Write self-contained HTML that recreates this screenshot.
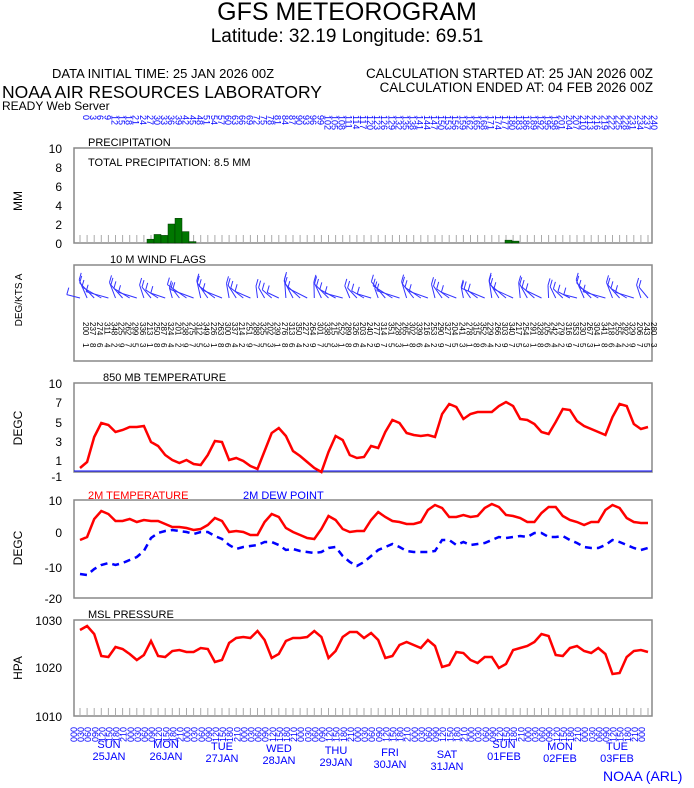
<!DOCTYPE html>
<html><head><meta charset="utf-8"><style>
body{margin:0;background:#fff;width:694px;height:788px;overflow:hidden}
svg{display:block;font-family:"Liberation Sans",sans-serif}
</style></head><body>
<svg id="s" width="694" height="788" xmlns="http://www.w3.org/2000/svg">
<text x="347" y="20" font-size="25" text-anchor="middle">GFS METEOROGRAM</text>
<text x="347" y="42" font-size="19" text-anchor="middle">Latitude: 32.19 Longitude:  69.51</text>
<text x="52" y="78" font-size="13">DATA INITIAL TIME: 25 JAN 2026 00Z</text>
<text x="653" y="78" font-size="13.4" text-anchor="end">CALCULATION STARTED AT: 25 JAN 2026 00Z</text>
<text x="653" y="92" font-size="13.4" text-anchor="end">CALCULATION ENDED AT: 04 FEB 2026 00Z</text>
<text x="2" y="98" font-size="17.5">NOAA AIR RESOURCES LABORATORY</text>
<text x="2" y="110" font-size="12">READY Web Server</text>
<text x="88" y="146" font-size="11">PRECIPITATION</text>
<text x="88" y="166" font-size="11">TOTAL PRECIPITATION:   8.5 MM</text>
<text x="110" y="263" font-size="11">10 M  WIND FLAGS</text>
<text x="103" y="381" font-size="11">850 MB  TEMPERATURE</text>
<text x="88" y="499" font-size="11" fill="#f00">2M TEMPERATURE</text>
<text x="243" y="499" font-size="11" fill="#00f">2M   DEW POINT</text>
<text x="88" y="618" font-size="11">MSL PRESSURE</text>
<text x="603" y="781" font-size="14" fill="#00f">NOAA (ARL)</text>
<g font-size="12" text-anchor="middle">
<text transform="translate(22,201) rotate(-90)">MM</text>
<text transform="translate(22,300) rotate(-90)" font-size="10">DEG/KTS  A</text>
<text transform="translate(22,428) rotate(-90)">DEGC</text>
<text transform="translate(22,548) rotate(-90)">DEGC</text>
<text transform="translate(22,668) rotate(-90)">HPA</text>
</g>
<g font-size="12" text-anchor="end">
<text x="62" y="153">10</text><text x="62" y="172">8</text><text x="62" y="191">6</text><text x="62" y="210">4</text><text x="62" y="229">2</text><text x="62" y="248">0</text>
<text x="62" y="388">10</text><text x="62" y="407">7</text><text x="62" y="427">5</text><text x="62" y="446">3</text><text x="62" y="465">1</text><text x="62" y="481">-1</text>
<text x="62" y="505">10</text><text x="62" y="537">0</text><text x="62" y="572">-10</text><text x="62" y="603">-20</text>
<text x="62" y="625">1030</text><text x="62" y="672">1020</text><text x="62" y="721">1010</text>
</g>
<g fill="none" stroke="#888" stroke-width="1.5">
<rect x="74" y="148" width="578" height="95"/>
<rect x="74" y="265" width="578" height="96"/>
<rect x="74" y="383" width="578" height="89"/>
<rect x="74" y="500" width="578" height="98"/>
<rect x="74" y="620" width="578" height="96"/>
</g>
<g stroke="#00f" stroke-width="1"><line x1="74" y1="471" x2="652" y2="471"/></g>
<g id="g"></g>
<g font-size="11" fill="#00f" text-anchor="middle">
<text x="109" y="748">SUN</text><text x="109" y="760">25JAN</text>
<text x="166" y="748">MON</text><text x="166" y="760">26JAN</text>
<text x="222" y="750">TUE</text><text x="222" y="762">27JAN</text>
<text x="279" y="752">WED</text><text x="279" y="764">28JAN</text>
<text x="336" y="754">THU</text><text x="336" y="766">29JAN</text>
<text x="390" y="756">FRI</text><text x="390" y="768">30JAN</text>
<text x="447" y="758">SAT</text><text x="447" y="770">31JAN</text>
<text x="504" y="748">SUN</text><text x="504" y="760">01FEB</text>
<text x="560" y="750">MON</text><text x="560" y="762">02FEB</text>
<text x="617" y="750">TUE</text><text x="617" y="762">03FEB</text>
</g>
</svg>
<script>
var g=document.getElementById('g'),h='';
function X(i){return 80+i*7.1}
for(var i=0;i<81;i++){var x=X(i);
h+='<line x1="'+x+'" y1="235" x2="'+x+'" y2="243" stroke="#aaa"/>';
h+='<line x1="'+x+'" y1="708" x2="'+x+'" y2="716" stroke="#aaa"/>';
var hr=(i*3)%24, hs=(hr<10?'0':'')+hr;
h+='<text font-size="9" fill="#00f" transform="translate('+(x+3)+',115) rotate(90)">'+(i*3)+'</text>';
h+='<text font-size="9" fill="#00f" transform="translate('+(x-3)+',742) rotate(-90)">'+hs+'0</text>';
h+='<text font-size="8" fill="#000" transform="translate('+(x+3)+',322) rotate(90)">'+(200+(i*37)%160)+'</text>';
h+='<text font-size="8" fill="#000" transform="translate('+(x+3)+',343) rotate(90)">'+(1+(i*7)%9)+'</text>';
}
var bars=[[147,0.4],[154,0.9],[161,0.8],[168,2.0],[175,2.6],[182,1.2],[189,0.15],[505,0.3],[512,0.2]];
bars.forEach(function(b){var hh=b[1]*9.5;h+='<rect x="'+b[0]+'" y="'+(243-hh)+'" width="7" height="'+hh+'" fill="#070" stroke="#030" stroke-width="0.5"/>';});
for(var i=0;i<81;i++){var x=X(i),a=(i*53)%70+200,r=a*Math.PI/180,L=14+(i*13)%14;
var x2=x+L*Math.cos(r),y2=298+L*Math.sin(r)*0.7;
h+='<line x1="'+x+'" y1="298" x2="'+x2.toFixed(1)+'" y2="'+y2.toFixed(1)+'" stroke="#33f"/>';
h+='<line x1="'+x2.toFixed(1)+'" y1="'+y2.toFixed(1)+'" x2="'+(x2+2).toFixed(1)+'" y2="'+(y2-7).toFixed(1)+'" stroke="#33f"/>';}
function pl(ys,c,d,w){var p=ys.map(function(y,i){return X(i).toFixed(1)+','+y}).join(' ');
h+='<polyline points="'+p+'" fill="none" stroke="'+c+'" stroke-width="'+w+'"'+(d?' stroke-dasharray="'+d+'"':'')+'/>';}
pl([468,462,437,423,425,432,430,427,427,426,442,446,455,460,463,460,464,465,455,441,442,460,458,461,466,469,451,433,428,436,451,456,462,468,472,452,436,440,455,458,457,446,448,432,420,423,433,435,436,435,437,414,404,407,419,414,412,412,412,406,402,406,419,420,424,432,434,422,409,410,421,426,429,432,435,417,404,406,424,429,427],'#f00',0,2.5);
pl([540,537,519,511,514,521,521,519,522,520,521,521,524,527,527,528,530,529,525,518,521,532,531,532,535,535,522,514,517,528,532,535,538,539,529,516,520,529,532,531,531,520,512,517,521,522,524,524,522,510,505,508,517,517,515,517,516,508,504,507,515,516,518,522,522,513,507,507,516,520,522,525,522,522,510,505,508,518,522,523,523],'#f00',0,2.5);
pl([574,575,569,565,563,565,563,560,557,551,538,533,531,530,531,532,534,532,532,536,539,545,549,547,546,545,542,542,545,550,549,551,552,553,552,548,547,556,562,566,562,556,550,547,544,547,551,552,552,552,551,540,540,545,542,545,544,543,540,537,538,537,536,537,533,533,537,537,536,540,543,547,548,548,545,540,542,545,548,550,548],'#00f','7,5',2.5);
pl([630,626,634,656,657,647,649,654,660,655,641,656,657,651,650,652,652,648,649,662,660,643,638,637,638,631,640,658,654,641,638,638,637,631,637,658,651,637,632,632,638,633,640,658,656,645,642,645,648,640,646,667,665,652,653,660,663,657,657,668,664,650,648,646,642,634,636,655,656,648,646,651,653,648,654,674,673,657,651,650,652],'#f00',0,2.5);
g.innerHTML=h;
</script>
</body></html>
